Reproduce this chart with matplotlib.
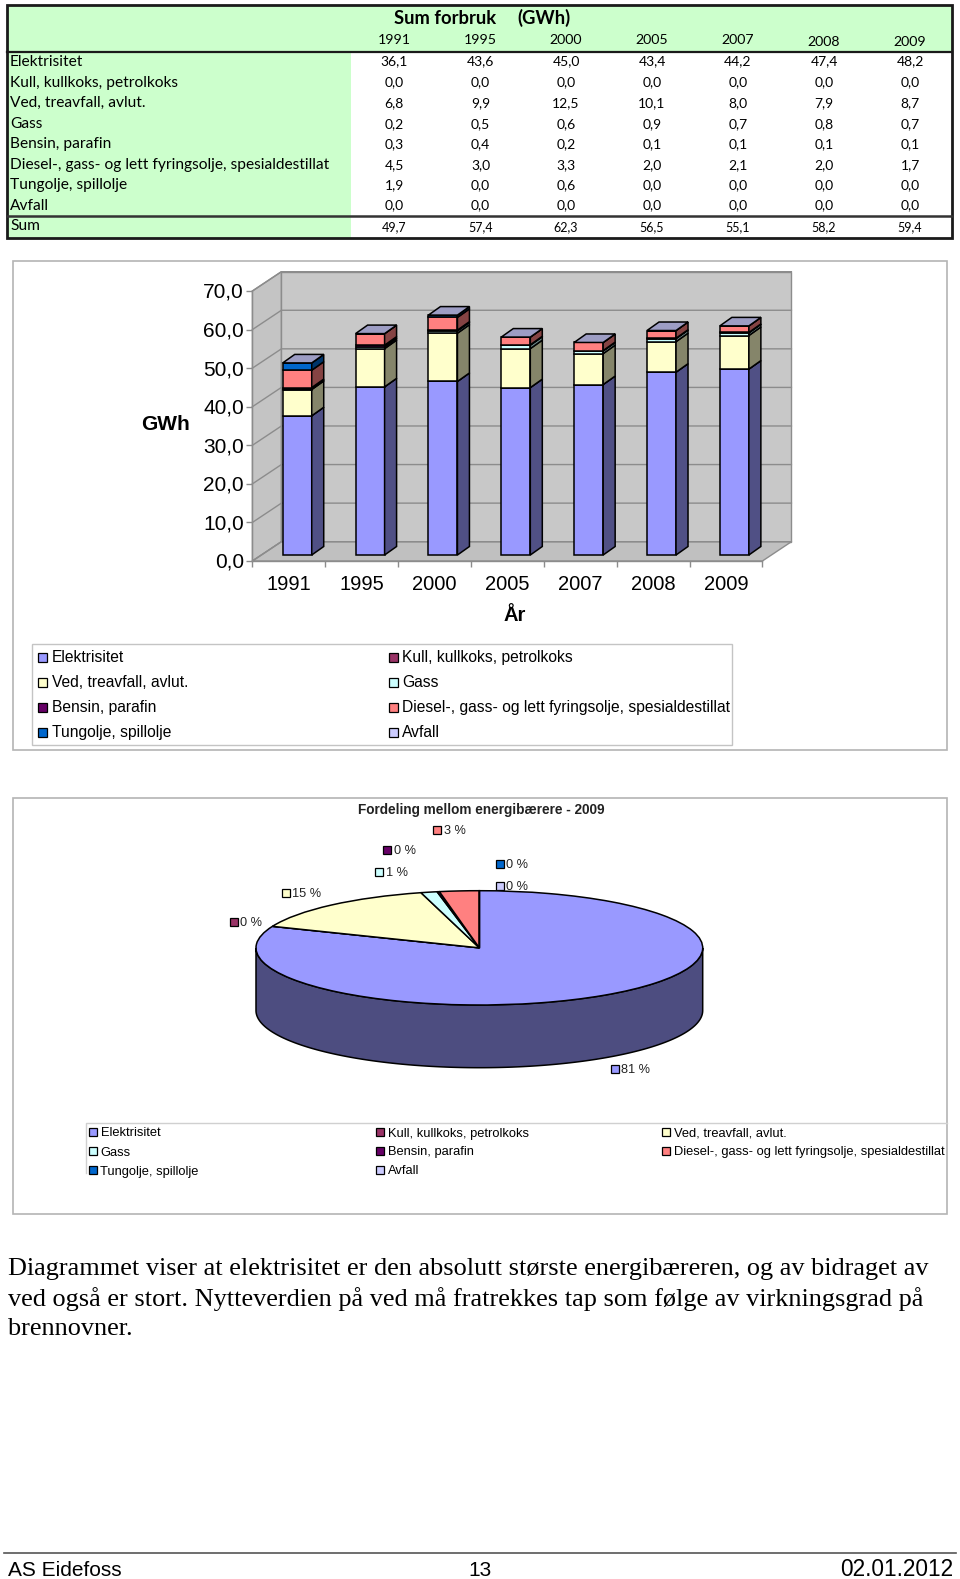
import numpy as np
import matplotlib
matplotlib.use("Agg")
import matplotlib.pyplot as plt
from matplotlib.patches import Polygon, Rectangle
from matplotlib.transforms import ScaledTranslation

W, H = 960, 1579

years = ["1991", "1995", "2000", "2005", "2007", "2008", "2009"]
names = ["Elektrisitet", "Kull, kullkoks, petrolkoks", "Ved, treavfall, avlut.", "Gass",
         "Bensin, parafin", "Diesel-, gass- og lett fyringsolje, spesialdestillat",
         "Tungolje, spillolje", "Avfall"]
elektrisitet = [36.1, 43.6, 45.0, 43.4, 44.2, 47.4, 48.2]
kull = [0.0, 0.0, 0.0, 0.0, 0.0, 0.0, 0.0]
ved = [6.8, 9.9, 12.5, 10.1, 8.0, 7.9, 8.7]
gass = [0.2, 0.5, 0.6, 0.9, 0.7, 0.8, 0.7]
bensin = [0.3, 0.4, 0.2, 0.1, 0.1, 0.1, 0.1]
diesel = [4.5, 3.0, 3.3, 2.0, 2.1, 2.0, 1.7]
tungolje = [1.9, 0.0, 0.6, 0.0, 0.0, 0.0, 0.0]
avfall = [0.0, 0.0, 0.0, 0.0, 0.0, 0.0, 0.0]
sums = [49.7, 57.4, 62.3, 56.5, 55.1, 58.2, 59.4]
series = [elektrisitet, kull, ved, gass, bensin, diesel, tungolje, avfall]
colors = ["#9999FF", "#993366", "#FFFFCC", "#CCFFFF", "#660066", "#FF8080", "#0066CC", "#CCCCFF"]
pie_labels = ["81 %", "0 %", "15 %", "1 %", "0 %", "3 %", "0 %", "0 %"]

body = ["Diagrammet viser at elektrisitet er den absolutt største energibæreren, og av bidraget av",
        "ved også er stort. Nytteverdien på ved må fratrekkes tap som følge av virkningsgrad på",
        "brennovner."]


def comma(v):
    return f"{v:.1f}".replace(".", ",")


def shade(c, f):
    r, g, b = matplotlib.colors.to_rgb(c)
    return (r * f, g * f, b * f)


def px_axes(x0, y0, x1, y1):
    # axes from pixel box, y counted from the top
    return fig.add_axes([x0 / W, 1 - y1 / H, (x1 - x0) / W, (y1 - y0) / H])


fig = plt.figure(figsize=(W / 100, H / 100), dpi=100)
fig.patch.set_facecolor("white")

# page layer in pixels, for frames, table and text
page = fig.add_axes([0, 0, 1, 1], zorder=0)
page.set_xlim(0, W)
page.set_ylim(H, 0)
page.axis("off")

# table
tfont = "Lato"
page.add_patch(Rectangle((7, 5), 945, 233, fc="white", ec="none"))
page.add_patch(Rectangle((7, 5), 945, 47, fc="#CCFFCC", ec="none"))
page.add_patch(Rectangle((7, 52), 344, 186, fc="#CCFFCC", ec="none"))
page.add_patch(Rectangle((7, 5), 945, 233, fc="none", ec="#1a1a1a", lw=2))
page.plot([7, 952], [51.5, 51.5], color="#1a1a1a", lw=1.6)
page.plot([7, 952], [215.5, 215.5], color="#333333", lw=1.8)
col_x = [394, 480.5, 566, 652, 738, 824, 910]
row_y = [61.5, 82.5, 103, 124, 144, 165, 185.5, 205.5]
head_y = [40.5, 40.5, 40.5, 40.5, 40.5, 42, 42]
page.text(445, 18, "Sum forbruk", fontsize=13.2, fontweight="bold", family=tfont, ha="center", va="center")
page.text(544, 18, "(GWh)", fontsize=13.2, fontweight="bold", family=tfont, ha="center", va="center")
for x, y, yr in zip(col_x, head_y, years):
    page.text(x, y, yr, fontsize=10.2, family=tfont, ha="center", va="center")
for name, vals, y in zip(names, series, row_y):
    page.text(10, y, name, fontsize=11.2, family=tfont, ha="left", va="center")
    for x, v in zip(col_x, vals):
        page.text(x, y, comma(v), fontsize=10, family=tfont, ha="center", va="center")
page.text(10, 226, "Sum", fontsize=11.2, family=tfont, ha="left", va="center")
for x, v in zip(col_x, sums):
    page.text(x, 227.5, comma(v), fontsize=9, family=tfont, ha="center", va="center")

# chart frames
page.add_patch(Rectangle((13, 261), 934, 489, fc="white", ec="#b4b4b4", lw=1.2))
page.add_patch(Rectangle((13, 798), 934, 416, fc="white", ec="#b4b4b4", lw=1.2))

# bar chart, axes box is the front edge of the floor and left wall
ax = px_axes(252.4, 291, 762.4, 561)
ax.set_xlim(0, 7)
ax.set_ylim(0, 70)
ax.patch.set_visible(False)
for s in ax.spines.values():
    s.set_visible(False)
ux = 510 / 7
uy = 270 / 70
wall_dx, wall_dy = 29 / ux, 19.3 / uy
bar_dx, bar_dy = 12 / ux, 8.5 / uy
shift_x, shift_y = 8.4 / ux, 6 / uy
wall = "#C8C8C8"
grid = "#8C8C8C"
ax.add_patch(Polygon([(0, 0), (wall_dx, wall_dy), (wall_dx, 70 + wall_dy), (0, 70)], fc="#C4C4C4", ec=grid, lw=1, clip_on=False))
ax.add_patch(Polygon([(wall_dx, wall_dy), (7 + wall_dx, wall_dy), (7 + wall_dx, 70 + wall_dy), (wall_dx, 70 + wall_dy)], fc=wall, ec=grid, lw=1, clip_on=False))
ax.add_patch(Polygon([(0, 0), (7, 0), (7 + wall_dx, wall_dy), (wall_dx, wall_dy)], fc="#C0C0C0", ec=grid, lw=1, clip_on=False))
for v in range(0, 80, 10):
    ax.plot([0, wall_dx, 7 + wall_dx], [v, v + wall_dy, v + wall_dy], color=grid, lw=1, clip_on=False, zorder=1.5)
ax.plot([0, 7], [0, 0], color=grid, lw=1, clip_on=False, zorder=1.6)
ax.plot([0, 0], [0, 70], color=grid, lw=1, clip_on=False, zorder=1.6)

pos = np.arange(7) + 0.5 + shift_x
bw = 29 / ux
bottom = np.zeros(7) + shift_y
z = 3
for vals, col in zip(series, colors):
    vals = np.array(vals)
    ax.bar(pos, vals, bw, bottom=bottom, color=col, edgecolor="black", lw=1.1, zorder=z, clip_on=False)
    for p, b, v in zip(pos, bottom, vals):
        r = p + bw / 2
        ax.add_patch(Polygon([(r, b), (r + bar_dx, b + bar_dy), (r + bar_dx, b + v + bar_dy), (r, b + v)],
                             fc=shade(col, 0.52), ec="black", lw=1.1, zorder=z, clip_on=False))
    bottom = bottom + vals
    z += 0.1
for p, b in zip(pos, bottom):
    l, r = p - bw / 2, p + bw / 2
    ax.add_patch(Polygon([(l, b), (r, b), (r + bar_dx, b + bar_dy), (l + bar_dx, b + bar_dy)],
                         fc=shade(colors[-1], 0.77), ec="black", lw=1.1, zorder=z, clip_on=False))

ax.set_yticks(range(0, 80, 10), [comma(v) for v in range(0, 80, 10)], fontsize=15, family="Liberation Sans", va="center")
ax.set_xticks(range(8), [""] * 8)
ax.set_xticks(np.arange(7) + 0.5, years, minor=True, fontsize=14.5, family="Liberation Sans")
ax.tick_params(axis="y", which="major", length=4, color=grid, width=1, pad=2)
ax.tick_params(axis="x", which="major", length=4, color=grid, width=1)
ax.tick_params(axis="x", which="minor", length=0, pad=10)
# labels sit a little lower than their ticks
nudge = ScaledTranslation(0, -1.5 / 100, fig.dpi_scale_trans)
for lab in ax.get_yticklabels():
    lab.set_transform(lab.get_transform() + nudge)
ax.set_ylabel("GWh", fontsize=15, fontweight="bold", family="Liberation Sans", rotation=0, ha="center", va="center")
ax.yaxis.set_label_coords(-0.171, 0.507)
ax.set_xlabel("År", fontsize=14.5, fontweight="bold", family="Liberation Sans", labelpad=9, x=0.514)

# legend of bar chart, two columns filled across
page.add_patch(Rectangle((32.2, 643.7), 700, 100.8, fc="white", ec="#c4c4c4", lw=1, zorder=2))
leg_x = [42.5, 393]
leg_y = [657, 682, 707, 732]
for i, (name, col) in enumerate(zip(names, colors)):
    x, y = leg_x[i % 2], leg_y[i // 2]
    page.add_patch(Rectangle((x - 4.5, y - 4.5), 9, 9, fc=col, ec="black", lw=0.9, zorder=3))
    page.text(x + 9, y + 0.5, name, fontsize=11.27, family="Liberation Sans", ha="left", va="center", zorder=3)

# pie, axes box is the top ellipse of the disc
pie_ax = px_axes(256, 890.7, 702.7, 1005)
depth = 62.7 / 57.15
t = np.linspace(np.pi, 2 * np.pi, 200)
side = np.column_stack([np.r_[np.cos(t), np.cos(t)[::-1]], np.r_[np.sin(t) - depth, np.sin(t)[::-1]]])
pie_vals = [s[-1] for s in series]
pie_ax.pie(pie_vals, colors=colors, startangle=90, counterclock=False, radius=1,
           wedgeprops=dict(edgecolor="black", linewidth=1.1, zorder=3))
pie_ax.add_patch(Polygon(side, fc="#4D4D80", ec="black", lw=1.1, zorder=2, clip_on=False))
pie_ax.set_aspect("auto")
pie_ax.set_xlim(-1, 1)
pie_ax.set_ylim(-1, 1)
for w in pie_ax.patches:
    w.set_clip_on(False)

page.text(481, 810, "Fordeling mellom energibærere - 2009", fontsize=9.85, fontweight="bold",
          family="Liberation Sans", ha="center", va="center", color="#222222", zorder=3)
lab_x = [614.5, 233.5, 286, 379, 387, 437, 500, 500]
lab_y = [1069, 921.5, 893, 871.5, 850, 829.5, 864, 885.5]
for x, y, lab, col in zip(lab_x, lab_y, pie_labels, colors):
    page.add_patch(Rectangle((x - 4, y - 4), 8, 8, fc=col, ec="black", lw=0.9, zorder=3))
    page.text(x + 6.5, y + 1, lab, fontsize=9.2, family="Liberation Sans", ha="left", va="center", color="#222222", zorder=3)

# legend of pie
page.plot([85.5, 85.5, 947], [1172.5, 1122.5, 1122.5], color="#d0d0d0", lw=1, zorder=2)
pleg_x = [93, 380, 666]
pleg_y = [1132, 1151, 1170]
for i, (name, col) in enumerate(zip(names, colors)):
    x, y = pleg_x[i % 3], pleg_y[i // 3]
    page.add_patch(Rectangle((x - 4, y - 4), 8, 8, fc=col, ec="black", lw=0.9, zorder=3))
    page.text(x + 7.5, y + 1.5, name, fontsize=9.3, family="Liberation Sans", ha="left", va="center", zorder=3)

# text under the charts
for y, line in zip([1269.5, 1299, 1329], body):
    page.text(7.5, y, line, fontsize=18.9, family="Liberation Serif", ha="left", va="center")

page.plot([4, 956], [1552.5, 1552.5], color="#555555", lw=1.2)
page.text(8, 1570, "AS Eidefoss", fontsize=15, family="Liberation Sans", ha="left", va="center")
page.text(480, 1570, "13", fontsize=15, family="Liberation Sans", ha="center", va="center")
page.text(953, 1570, "02.01.2012", fontsize=16.3, family="Liberation Sans", ha="right", va="center")

fig.savefig("out.png", dpi=100)
